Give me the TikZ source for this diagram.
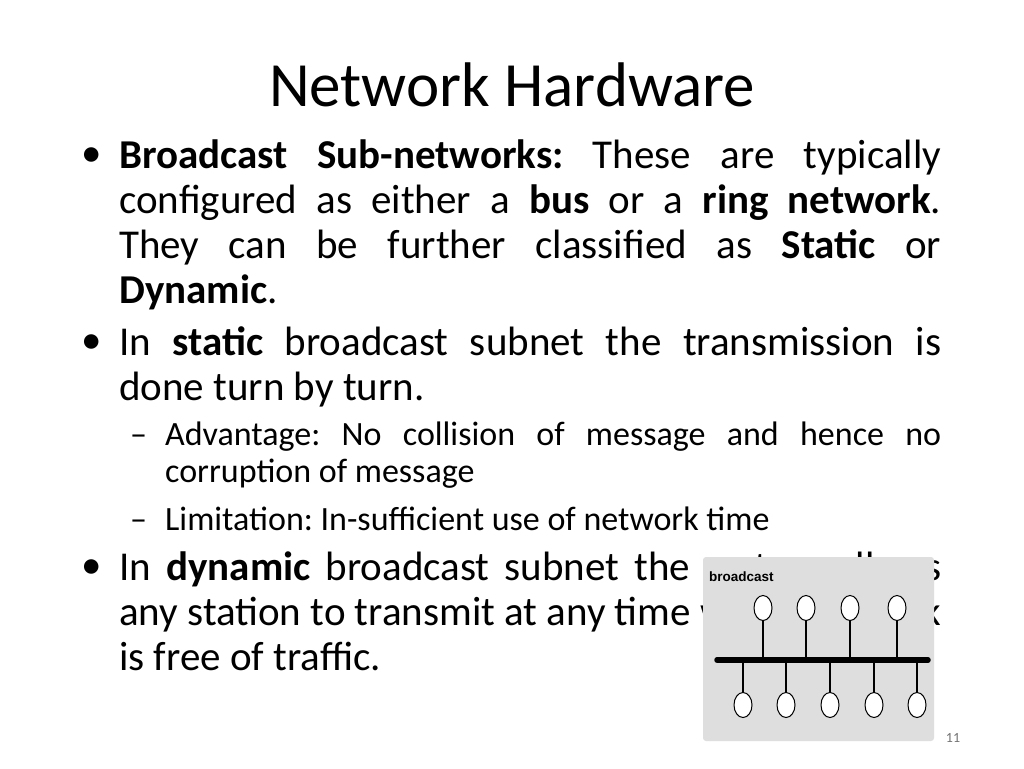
\documentclass[tikz,border=0pt]{standalone}
\usetikzlibrary{shapes.geometric}
\usepackage{fontspec}
\setmainfont{Carlito}
\newfontfamily\arialf{Liberation Sans}
\frenchspacing
\begin{document}
\begin{tikzpicture}[x=1pt,y=-1pt,
  body/.style={anchor=base west,inner sep=0,font=\fontsize{41}{45}\selectfont},
  sub/.style={anchor=base west,inner sep=0,font=\fontsize{34}{37}\selectfont},
  st/.style={draw=black,fill=white,line width=1pt,ellipse,minimum width=18pt,minimum height=25pt,inner sep=0},
  stem/.style={line width=1.3pt}]
\useasboundingbox (0,0) rectangle (1024,768);
\fill[white] (0,0) rectangle (1024,768);
\node[anchor=base,inner sep=0,font=\fontsize{63}{66}\selectfont] (title) at (512,106) {Network Hardware};
\node[body] (b1) at (81,166) {•};
\node[body] (t1) at (119,168) {\parbox[t]{822pt}{\fontsize{41}{45}\selectfont\frenchspacing\hyphenpenalty=10000\exhyphenpenalty=10000\textbf{Broadcast Sub-networks:} These are typically\linebreak configured as either a \textbf{bus} or a \textbf{ring network}.\linebreak They can be further classified as \textbf{Static} or\linebreak \textbf{Dynamic}.}};
\node[body] (b2) at (81,353) {•};
\node[body] (t2) at (119,355) {\parbox[t]{822pt}{\fontsize{41}{45}\selectfont\frenchspacing\hyphenpenalty=10000 In \textbf{static} broadcast subnet the transmission is\linebreak done turn by turn.}};
\node[sub] (d1) at (130,445) {–};
\node[sub] (s1) at (165,445) {\parbox[t]{776pt}{\fontsize{34}{37}\selectfont\frenchspacing\hyphenpenalty=10000 Advantage: No collision of message and hence no corruption of message}};
\node[sub] (d2) at (130,530) {–};
\node[sub] (s2) at (165,530) {\parbox[t]{776pt}{\fontsize{34}{37}\selectfont\frenchspacing\hyphenpenalty=10000 Limitation: In-sufficient use of network time}};
\node[body] (b3) at (81,578) {•};
\node[body] (t3) at (119,580) {\parbox[t]{822pt}{\fontsize{41}{45}\selectfont\frenchspacing\hyphenpenalty=10000 In \textbf{dynamic} broadcast subnet the system allows any station to transmit at any time when network is free of traffic.}};
\node[anchor=base,inner sep=0,text=black!55,font=\fontsize{14}{16}\selectfont] (pg) at (953,742) {11};
% image
\fill[black!13,rounded corners=3pt] (703,557) rectangle (934,741);
\node[anchor=base west,inner sep=0,font=\arialf\bfseries\fontsize{13.5}{15}\selectfont] (lbl) at (709,581) {broadcast};
\coordinate (bl) at (717,660); \coordinate (br) at (928,660);
\draw[line width=5.5pt,line cap=round] (bl) -- (br);
\foreach \i/\x in {1/763,2/806,3/850,4/897}{
  \node[st] (u\i) at (\x,608) {};
  \coordinate (ub\i) at (\x,660);
  \draw[stem] (u\i.south) -- (ub\i);
}
\foreach \i/\x in {1/743,2/786,3/830,4/874,5/917}{
  \node[st] (l\i) at (\x,705) {};
  \coordinate (lb\i) at (\x,660);
  \draw[stem] (lb\i) -- (l\i.north);
}
\end{tikzpicture}
\end{document}
